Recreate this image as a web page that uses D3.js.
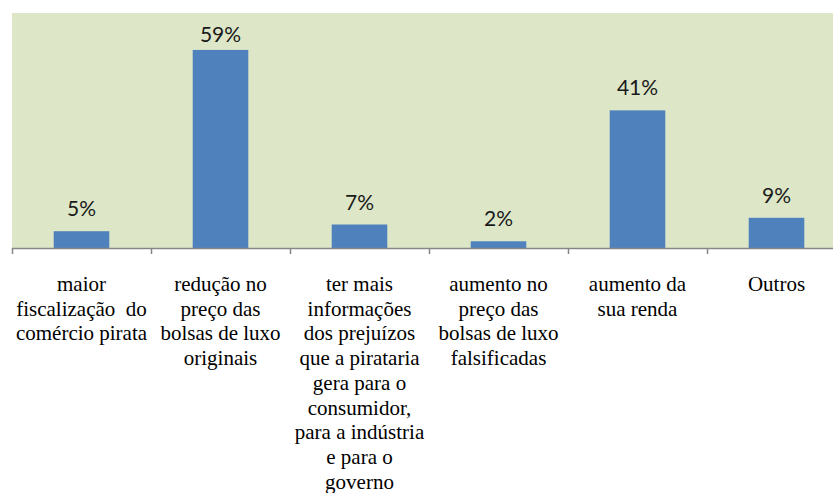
<!DOCTYPE html>
<html>
<head>
<meta charset="utf-8">
<script src="https://cdn.jsdelivr.net/npm/d3@7"></script>
</head>
<body style="margin:0">
<div id="chart"></div>
<script>
// Categories (already broken into lines as in the original)
const categories = [
    ["maior", "fiscalização\u00a0 do", "comércio pirata"],
    ["redução no", "preço das", "bolsas de luxo", "originais"],
    ["ter mais", "informações", "dos prejuízos", "que a pirataria", "gera para o", "consumidor,", "para a indústria", "e para o", "governo"],
    ["aumento no", "preço das", "bolsas de luxo", "falsificadas"],
    ["aumento da", "sua renda"],
    ["Outros"]
];
const values = [5, 59, 7, 2, 41, 9];
const yDomain = [0, 70];

const W = 833, H = 493;
const plot = {left: 12, top: 13, width: 834, height: 235};

const svg = d3.select("#chart")
    .append("svg")
    .attr("width", W)
    .attr("height", H);

// Plot background
svg.append("rect")
    .attr("x", plot.left)
    .attr("y", plot.top)
    .attr("width", plot.width)
    .attr("height", plot.height)
    .attr("fill", "#dde7c8");

const x = d3.scaleBand()
    .domain(d3.range(categories.length))
    .range([plot.left, plot.left + plot.width])
    .padding(0);

const y = d3.scaleLinear()
    .domain(yDomain)
    .range([plot.top + plot.height, plot.top]);

const barW = x.bandwidth() * 0.4;

// Category labels, one text per line (drawn at 28px, scaled to ~21px)
const lineH = 24.7;
const catLines = categories.flatMap((lines, i) =>
    lines.map((t, j) => ({t, i, j})));

svg.selectAll(".cat")
    .data(catLines)
    .join("text")
    .attr("class", "cat")
    .attr("transform", d => `translate(${x(d.i) + x.bandwidth() / 2},${291 + d.j * lineH}) scale(0.75)`)
    .attr("text-anchor", "middle")
    .attr("font-family", "Liberation Serif, DejaVu Serif, serif")
    .attr("font-size", 28)
    .attr("fill", "#000")
    .text(d => d.t);

// Bars
svg.selectAll(".bar")
    .data(values)
    .join("rect")
    .attr("class", "bar")
    .attr("x", (d, i) => x(i) + (x.bandwidth() - barW) / 2)
    .attr("y", d => y(d))
    .attr("width", barW)
    .attr("height", d => y(0) - y(d))
    .attr("fill", "#4f81bd");

// Value labels
svg.selectAll(".val")
    .data(values)
    .join("text")
    .attr("class", "val")
    .attr("x", (d, i) => x(i) + x.bandwidth() / 2)
    .attr("y", d => Math.max(y(d) - 15, plot.top + 29))
    .attr("text-anchor", "middle")
    .attr("font-family", "Lato")
    .attr("font-size", 21)
    .attr("fill", "#1a1a1a")
    .text(d => d + "%");

// X axis line and ticks at category boundaries
const axis = svg.append("g");
axis.append("line")
    .attr("x1", plot.left)
    .attr("x2", plot.left + plot.width)
    .attr("y1", y(0) + 0.5)
    .attr("y2", y(0) + 0.5)
    .attr("stroke", "#868686")
    .attr("stroke-width", 1.5);

axis.selectAll(".tick")
    .data(d3.range(categories.length + 1))
    .join("line")
    .attr("class", "tick")
    .attr("x1", i => Math.round(plot.left + i * x.step()) + 0.5)
    .attr("x2", i => Math.round(plot.left + i * x.step()) + 0.5)
    .attr("y1", y(0))
    .attr("y2", y(0) + 6)
    .attr("stroke", "#868686")
    .attr("stroke-width", 1.5);
</script>
</body>
</html>
